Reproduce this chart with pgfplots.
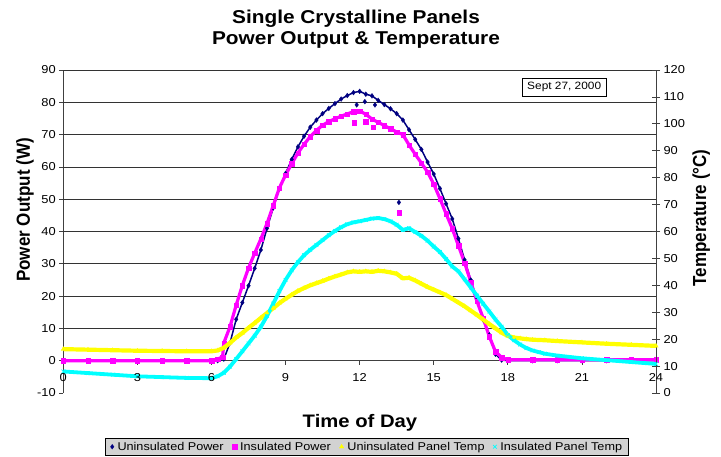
\documentclass[border=0pt]{standalone}
\usepackage{pgfplots}
\pgfplotsset{compat=1.18}
\usepackage{fontspec}
\setmainfont[FakeStretch=1.12]{Liberation Sans}
\newfontfamily\vfont[FakeStretch=0.9]{Liberation Sans}
\definecolor{pnavy}{RGB}{0,0,128}
\definecolor{pmag}{RGB}{255,0,255}
\definecolor{pyel}{RGB}{255,255,0}
\definecolor{pcyan}{RGB}{0,255,255}
\begin{document}
\begin{tikzpicture}[x=1pt,y=1pt]
\path[use as bounding box] (0,0) rectangle (721,456);
\pgfplotsset{
  myaxis/.style={scale only axis, width=592.7pt, height=323pt,
    at={(63.3pt,63pt)}, anchor=south west, xmin=0, xmax=24,
    /pgf/number format/assume math mode=true,
    ticklabel style={font=\fontsize{11.5}{13}\selectfont},
    axis line style={black!75, line width=0.8pt},
    tick style={black!75, line width=0.8pt}}
}
\begin{axis}[myaxis, ymin=-10, ymax=90,
  axis x line*=middle, axis y line*=left,
  hide obscured x ticks=false, hide obscured y ticks=false,
  xtick={0,3,...,24}, xticklabels={}, ytick={-10,0,...,90},
  tick align=outside, major tick length=4pt,
  extra y ticks={10,20,...,90}, extra y tick labels={},
  extra y tick style={grid=major, major tick length=0pt},
  grid style={black!80, line width=0.8pt}]
% Uninsulated Power
\addplot[pnavy, line width=1.5pt, mark=diamond*, mark size=2.5pt,
  mark options={line width=0.2pt, fill=pnavy, draw=pnavy}] coordinates {
(0,0)(1,0)(2,0)(3,0)(4,0)(5,0)(6,0)(6.25,0)(6.5,0.5)(6.75,5.5)(7,12.8)(7.25,18)(7.5,23.2)(7.75,28.6)(8,34.3)(8.25,41)(8.5,47.3)(8.75,53.3)(9,58)(9.25,62.3)(9.5,66.2)(9.75,69.5)(10,72.3)(10.25,74.5)(10.5,76.5)(10.75,78.1)(11,79.6)(11.25,81)(11.5,82.1)(11.75,83)(12,83.4)(12.25,82.5)(12.5,82)(12.75,80.6)(13,79.3)(13.25,78)(13.5,76.5)(13.75,74.5)(14,71.5)(14.25,68.5)(14.5,65.4)(14.75,61.5)(15,57.8)(15.25,53.3)(15.5,48.6)(15.75,43.9)(16,37.8)(16.25,31.2)(16.5,25)(16.75,19)(17,12.6)(17.25,8)(17.5,2)(17.75,0.2)(18,0)(19,0)(20,0)(21,0)(22,0)(23,0)(24,0)};
\addplot[forget plot, only marks, pnavy, mark=diamond*, mark size=2.5pt,
  mark options={line width=0.2pt, fill=pnavy}] coordinates {
(11.88,79.2)(12.21,80.2)(12.62,79.2)(13.59,49)};
% Insulated Power
\addplot[pmag, line width=3.2pt, mark=square*, mark size=2.2pt,
  mark options={line width=0.2pt, fill=pmag, draw=pmag}] coordinates {
(0,0)(1,0)(2,0)(3,0)(4,0)(5,0)(6,0)(6.25,0.5)(6.45,1.2)(6.5,5.5)(6.75,10.5)(7,17.2)(7.25,23.3)(7.5,28.7)(7.75,33.3)(8,37.7)(8.25,42.5)(8.5,48)(8.75,53.5)(9,57.5)(9.25,61)(9.5,64.3)(9.75,67)(10,69.4)(10.25,71.3)(10.5,72.9)(10.75,74)(11,74.9)(11.25,75.7)(11.5,76.4)(11.75,77.1)(12,77.3)(12.25,76.3)(12.5,74.8)(12.75,73.8)(13,72.8)(13.25,71.8)(13.5,70.8)(13.75,70)(14,66.8)(14.25,63.9)(14.5,61.2)(14.75,58.4)(15,54.7)(15.25,50.2)(15.5,45.5)(15.75,40.9)(16,35.6)(16.25,30.3)(16.5,24.4)(16.75,18.4)(17,13.2)(17.25,7.5)(17.5,2.8)(17.75,1)(18,0.3)(19,0.3)(20,0.3)(21,0.3)(22,0.3)(23,0.3)(24,0.3)};
\addplot[forget plot, only marks, pmag, mark=square*, mark size=2.2pt,
  mark options={line width=0.2pt, fill=pmag}] coordinates {
(11.78,73.7)(12.24,74)(12.55,72.4)(13.59,45.9)};
\end{axis}
\begin{axis}[myaxis, ymin=0, ymax=120,
  axis x line=none, axis y line*=right,
  ytick={0,10,...,120}, tick align=center, major tick length=8pt,
  legend columns=4,
  legend image code/.code={\draw[#1] plot coordinates {(0pt,0pt)};},
  legend style={at={(axis description cs:0.5124,-0.1384)}, anchor=north,
    font=\fontsize{11.3}{12}\selectfont, draw=black, line width=0.8pt,
    fill=gray!35, inner xsep=5pt, inner ysep=2pt,
    nodes={inner xsep=1.5pt, inner ysep=1.8pt},
    /tikz/every odd column/.append style={column sep=2pt},
    /tikz/every even column/.append style={column sep=7pt}}]
\addlegendimage{pnavy, mark=diamond*, mark size=2.4pt, mark options={line width=0.2pt, fill=pnavy}}
\addlegendentry{Uninsulated Power}
\addlegendimage{pmag, mark=square*, mark size=2.2pt, mark options={line width=0.2pt, fill=pmag}}
\addlegendentry{Insulated Power}
% Uninsulated Panel Temp
\addplot[pyel, line width=4.2pt, mark=triangle*, mark size=2.6pt,
  mark options={line width=0.2pt, fill=pyel, draw=pyel}] coordinates {
(0,16.3)(1,16.1)(2,15.9)(3,15.7)(4,15.6)(5,15.5)(6,15.5)(6.25,15.8)(6.5,16.8)(6.75,18.6)(7,20.6)(7.25,22.3)(7.5,24.2)(7.75,26)(8,27.9)(8.25,29.7)(8.5,31.5)(8.75,33.4)(9,35)(9.25,36.5)(9.5,37.9)(9.75,39)(10,40)(10.25,40.8)(10.5,41.6)(10.75,42.5)(11,43.3)(11.25,44)(11.5,44.8)(11.75,45.2)(12,45)(12.25,45.2)(12.5,45)(12.75,45.4)(13,45.2)(13.25,44.8)(13.5,44.3)(13.75,42.6)(14,42.8)(14.25,41.8)(14.5,40.6)(14.75,39.4)(15,38.4)(15.25,37.4)(15.5,36.4)(15.75,35)(16,33.6)(16.25,32.2)(16.5,30.6)(16.75,29)(17,27.3)(17.25,25.6)(17.5,24)(17.75,22.4)(18,21.2)(18.25,20.6)(18.5,20.3)(18.75,20)(19,19.8)(19.5,19.6)(20,19.3)(21,18.8)(22,18.3)(23,17.9)(24,17.5)};
\addlegendentry{Uninsulated Panel Temp}
% Insulated Panel Temp
\addplot[pcyan, line width=3.8pt, mark=x, mark size=2.6pt,
  mark options={line width=0.7pt, draw=pcyan}] coordinates {
(0,8)(1,7.4)(2,6.8)(3,6.2)(4,5.9)(5,5.6)(6,5.5)(6.25,6.2)(6.5,7.5)(6.75,9.8)(7,12.6)(7.25,15.5)(7.5,18.4)(7.75,21.3)(8,24.6)(8.25,28.6)(8.5,33.2)(8.75,37.8)(9,42)(9.25,45.6)(9.5,48.6)(9.75,51.2)(10,53.2)(10.25,55)(10.5,56.8)(10.75,58.6)(11,60.2)(11.25,61.6)(11.5,62.7)(11.75,63.4)(12,63.8)(12.25,64.3)(12.5,64.8)(12.75,65)(13,64.6)(13.25,63.8)(13.5,62.5)(13.75,60.6)(14,61.2)(14.25,59.8)(14.5,58.4)(14.75,56.6)(15,54.4)(15.25,52.4)(15.5,49.8)(15.75,47)(16,45.2)(16.25,42.2)(16.5,39.2)(16.75,36.2)(17,33.2)(17.25,30.3)(17.5,27.3)(17.75,24.6)(18,21.5)(18.25,19.6)(18.5,18)(18.75,16.7)(19,15.8)(19.25,15.2)(19.5,14.6)(20,13.9)(21,12.9)(22,12.2)(23,11.5)(24,10.8)};
\addlegendentry{Insulated Panel Temp}
\end{axis}
% x tick labels drawn on top of the data, as in the reference
\begin{axis}[myaxis, ymin=-10, ymax=90,
  axis x line*=middle, axis y line=none,
  hide obscured x ticks=false,
  axis line style={draw=none}, tick style={draw=none},
  xtick={0,3,...,24}, major tick length=4pt, tick align=outside,
  xticklabel style={yshift=-5pt}]
\end{axis}
\node[draw=black, line width=0.8pt, fill=white, font=\fontsize{10.6}{12}\selectfont,
  inner xsep=5pt, inner ysep=0pt, minimum height=17.7pt] at (564.2,368.8) {Sept 27, 2000};
\node[anchor=base, font=\fontsize{18.6}{21}\selectfont\bfseries] at (356,432) {Single Crystalline Panels};
\node[anchor=base, font=\fontsize{18.6}{21}\selectfont\bfseries] at (356,411) {Power Output \& Temperature};
\node[anchor=base, font=\fontsize{18.1}{20}\selectfont\bfseries] at (360,28.7) {Time of Day};
\node[rotate=90, anchor=base, font=\vfont\fontsize{18.9}{20}\selectfont\bfseries] at (30,246) {Power Output (W)};
\node[rotate=90, anchor=base, font=\vfont\fontsize{18.9}{20}\selectfont\bfseries] at (706,238) {Temperature (°C)};
\end{tikzpicture}
\end{document}
